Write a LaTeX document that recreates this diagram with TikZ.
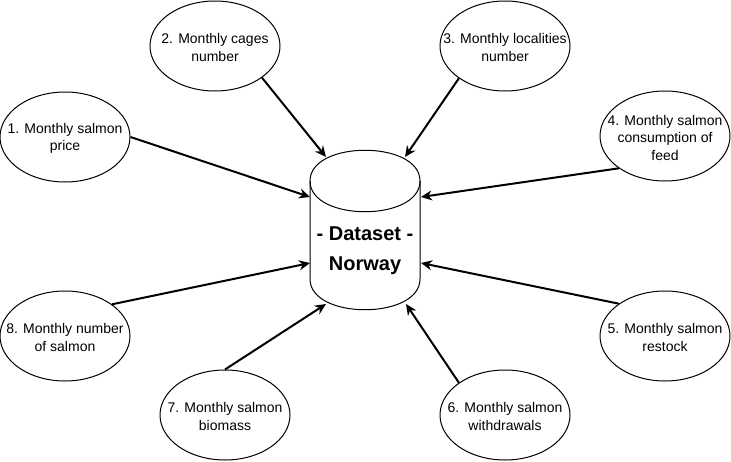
\documentclass[tikz,border=0pt]{standalone}
\usepackage{fontspec}
\setmainfont{Liberation Sans}
\usetikzlibrary{arrows.meta,shapes.geometric}
\begin{document}
\begin{tikzpicture}[x=1pt,y=-1pt,
  bubble/.style={ellipse, draw, line width=1pt, minimum width=130pt, minimum height=90pt, inner sep=0pt, fill=white},
  btext/.style={align=center, font=\fontsize{14}{17.5}\selectfont, yshift=-1.5pt},
  feed/.style={line width=2pt, -{Stealth[length=11pt,width=10pt]}},
  dbline/.style={draw, line width=1pt, fill=white}
]
\useasboundingbox (0,0) rectangle (731,461);
% cylinder
\path[dbline] (310,181) .. controls (310,140) and (420,140) .. (420,181)
  -- (420,279) .. controls (420,320) and (310,320) .. (310,279) -- cycle;
\draw[line width=1pt] (310,181) .. controls (310,222) and (420,222) .. (420,181);
\node[align=center, font=\bfseries\fontsize{20}{30}\selectfont] (db) at (365,250.5) {- Dataset -\\Norway};
\coordinate (c1) at (310,197);
\coordinate (c2) at (326,157);
\coordinate (c3) at (405,157);
\coordinate (c4) at (421,197);
\coordinate (c5) at (421,263);
\coordinate (c6) at (406,304);
\coordinate (c7) at (326,304);
\coordinate (c8) at (310,263);
% ellipses
\node[bubble, label={[btext]center:{1. Monthly salmon\\price}}] (e1) at (65,137) {};
\node[bubble, label={[btext]center:{2. Monthly cages\\number}}] (e2) at (215,46) {};
\node[bubble, label={[btext]center:{3. Monthly localities\\number}}] (e3) at (505,46) {};
\node[bubble, label={[btext]center:{4. Monthly salmon\\consumption of\\feed}}] (e4) at (665,136) {};
\node[bubble, label={[btext]center:{5. Monthly salmon\\restock}}] (e5) at (665,336) {};
\node[bubble, label={[btext]center:{6. Monthly salmon\\withdrawals}}] (e6) at (505,415) {};
\node[bubble, label={[btext]center:{7. Monthly salmon\\biomass}}] (e7) at (225,415) {};
\node[bubble, label={[btext]center:{8. Monthly number\\of salmon}}] (e8) at (65,336) {};
% arrows
\draw[feed] (e1.east) -- (c1);
\draw[feed] (e2.-34.7) -- (c2);
\draw[feed] (e3.-145.3) -- (c3);
\draw[feed] (e4.-145.3) -- (c4);
\draw[feed] (e5.145.3) -- (c5);
\draw[feed] (e6.145.3) -- (c6);
\draw[feed] (e7.north) -- (c7);
\draw[feed] (e8.34.7) -- (c8);
\end{tikzpicture}
\end{document}
